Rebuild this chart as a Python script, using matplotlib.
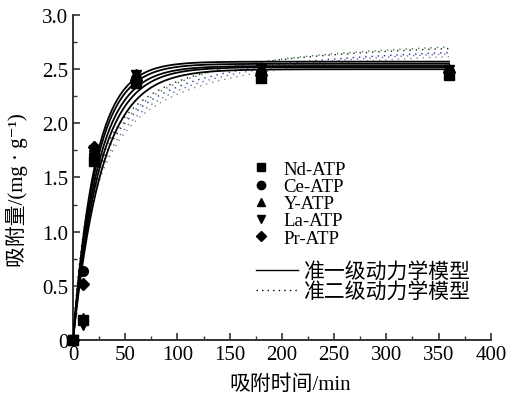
import numpy as np
import matplotlib
matplotlib.use("Agg")
import matplotlib.pyplot as plt
from matplotlib.lines import Line2D

plt.rcParams['font.family'] = ['Liberation Serif', 'Noto Sans CJK SC', 'DejaVu Sans']

# sampling times (min)
t = [0, 10, 20, 60, 180, 360]

# measured adsorption (mg/g)
nd = [0, 0.18, 1.65, 2.37, 2.42, 2.45]
ce = [0, 0.64, 1.72, 2.42, 2.47, 2.48]
y_ = [0, 0.20, 1.79, 2.46, 2.49, 2.50]
la = [0, 0.14, 1.75, 2.45, 2.50, 2.49]
pr = [0, 0.52, 1.78, 2.40, 2.45, 2.47]

names = ['Nd-ATP', 'Ce-ATP', 'Y-ATP', 'La-ATP', 'Pr-ATP']
markers = ['s', 'o', '^', 'v', 'D']
series = [nd, ce, y_, la, pr]

# fitted parameters
qe1 = [2.50, 2.53, 2.57, 2.55, 2.52]   # pseudo-first-order qe
k1 = [0.036, 0.042, 0.047, 0.045, 0.039]
qe2 = [2.78, 2.80, 2.86, 2.83, 2.80]   # pseudo-second-order qe
k2 = [0.016, 0.018, 0.017, 0.019, 0.0165]
dot_colors = ['#888888', '#2a2a9a', '#3a8a3a', '#222222', '#6a6ab0']

fig = plt.figure(figsize=(5.07, 4.02), dpi=100)
ax = fig.add_axes([0.144, 0.152, 0.824, 0.808])

tt = np.linspace(0, 360, 400)
for i in range(5):
    q1 = qe1[i] * (1 - np.exp(-k1[i] * tt))
    ax.plot(tt, q1, color='black', lw=1.3, zorder=3)
    q2 = qe2[i] ** 2 * k2[i] * tt / (1 + qe2[i] * k2[i] * tt)
    ax.plot(tt, q2, color=dot_colors[i], lw=1.0, ls=(0, (1, 3.5)), zorder=2)

for i in range(5):
    ax.plot(t, series[i], ls='none', marker=markers[i], color='black',
            ms=7 if markers[i] != 'D' else 6, clip_on=False, zorder=4)

ax.set_xlim(0, 400)
ax.set_ylim(0, 3.0)
ax.set_xticks(np.arange(0, 401, 50))
ax.set_xticks(np.arange(0, 401, 25), minor=True)
ax.set_yticks(np.arange(0, 3.01, 0.5))
ax.set_yticklabels(['0', '0.5', '1.0', '1.5', '2.0', '2.5', '3.0'])
ax.set_yticks(np.arange(0, 3.01, 0.25), minor=True)
ax.tick_params(direction='in', which='major', length=5, width=1.2, labelsize=15, colors='#333333')
ax.tick_params(direction='in', which='minor', length=3, width=1.0, colors='#333333')
ax.tick_params(labelcolor='black')
for s in ['top', 'right']:
    ax.spines[s].set_visible(False)
for s in ['left', 'bottom']:
    ax.spines[s].set_linewidth(1.4)
    ax.spines[s].set_color('#333333')

ax.set_xlabel('吸附时间/min', fontsize=15)
ax.set_ylabel('吸附量/(mg · g⁻¹)', fontsize=15)
ax.xaxis.set_label_coords(0.52, -0.105)
ax.yaxis.set_label_coords(-0.108, 0.465)

h1 = [Line2D([], [], ls='none', marker=m, color='black', ms=6 if m != 'D' else 5) for m in markers]
leg1 = ax.legend(h1, names, loc='upper left', bbox_to_anchor=(0.401, 0.58), frameon=False,
                 fontsize=13.5, labelspacing=0.0, handlelength=1.2, handletextpad=0.6,
                 borderpad=0)
ax.add_artist(leg1)
h2 = [Line2D([], [], color='black', lw=1.0),
      Line2D([], [], color='black', lw=1.0, ls=(0, (1, 3)))]
ax.legend(h2, ['准一级动力学模型', '准二级动力学模型'], loc='upper left',
          bbox_to_anchor=(0.4136, 0.272), frameon=False, fontsize=15,
          labelspacing=0.0, handlelength=2.0, handletextpad=0.3, borderpad=0)

fig.savefig('out.png', dpi=100)
